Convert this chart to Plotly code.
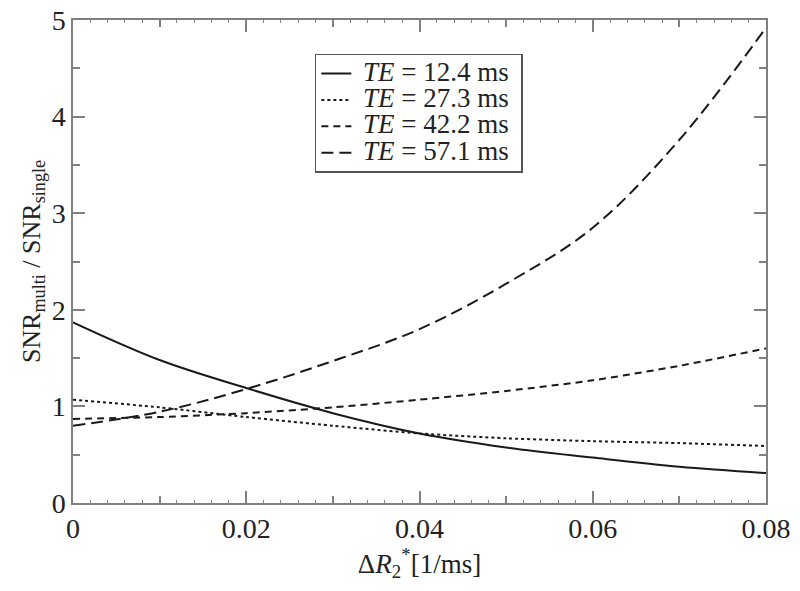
import plotly.graph_objects as go

# data (delta R2* in 1/ms, SNR ratio)
dr2 = [0.0, 0.01, 0.02, 0.03, 0.04, 0.05, 0.06, 0.07, 0.08]
te_124 = [1.87, 1.48, 1.19, 0.93, 0.72, 0.575, 0.47, 0.375, 0.31]
te_273 = [1.07, 0.99, 0.89, 0.80, 0.72, 0.67, 0.64, 0.62, 0.59]
te_422 = [0.87, 0.89, 0.93, 0.99, 1.07, 1.16, 1.27, 1.42, 1.60]
te_571 = [0.80, 0.945, 1.18, 1.47, 1.80, 2.27, 2.85, 3.76, 4.92]
labels = ['12.4', '27.3', '42.2', '57.1']

x_ticks = [0, 0.02, 0.04, 0.06, 0.08]
x_ticktext = ['0', '0.02', '0.04', '0.06', '0.08']
y_ticks = [0, 1, 2, 3, 4, 5]

series = [te_124, te_273, te_422, te_571]
dashes = ['solid', 'dot', '7px,5px', '12px,6px']
smooth = [1.0, 0.7, 0.7, 1.0]

fig = go.Figure()
for ys, lab, d, s in zip(series, labels, dashes, smooth):
    fig.add_trace(go.Scatter(
        x=dr2, y=ys, mode='lines',
        line=dict(color='#1a1a1a', width=2, dash=d, shape='spline', smoothing=s),
        # small legend font keeps rows tight, the span sets the visible size
        name=f'<span style="font-size:27px">&nbsp;<i>TE</i> = {lab} ms&nbsp;</span>',
    ))

# invisible trace to carry the extra fine tick axis
fig.add_trace(go.Scatter(x=[0, 0.08], y=[0, 0], xaxis='x2', mode='lines',
                         line=dict(width=0), showlegend=False, hoverinfo='skip'))

axis_col = '#808080'
font = 'Liberation Serif, Times New Roman, serif'

fig.update_layout(
    width=800, height=591,
    margin=dict(l=73, r=34, t=20, b=88, autoexpand=False),
    plot_bgcolor='white', paper_bgcolor='white',
    font=dict(family=font, color='#222', size=24),
    showlegend=True,
    legend=dict(
        x=0.349, y=0.93, xanchor='left', yanchor='top',
        bgcolor='white', bordercolor='#555', borderwidth=1.5,
        font=dict(size=18, family=font),
        tracegroupgap=0, itemwidth=30,
    ),
    xaxis=dict(
        range=[0, 0.08], tickvals=x_ticks, ticktext=x_ticktext,
        showline=True, linecolor=axis_col, linewidth=1.5, mirror='ticks',
        ticks='inside', ticklen=12, tickcolor=axis_col, tickwidth=1.5,
        minor=dict(tickvals=[0.01, 0.03, 0.05, 0.07], ticks='inside', ticklen=7, tickcolor=axis_col),
        showgrid=False, zeroline=False, automargin=False,
        tickfont=dict(size=28),
        title=dict(text='Δ<i>R</i><sub>2</sub><sup>*</sup>[1/ms]', font=dict(size=27), standoff=4),
    ),
    xaxis2=dict(
        overlaying='x', range=[0, 0.08], side='bottom',
        showticklabels=False, showgrid=False, zeroline=False,
        ticks='inside', ticklen=3, dtick=0.002, tick0=0, tickcolor=axis_col, tickwidth=1,
        mirror='ticks', showline=False, automargin=False,
    ),
    yaxis=dict(
        range=[0, 5], tickvals=y_ticks,
        showline=True, linecolor=axis_col, linewidth=1.5, mirror='ticks',
        ticks='inside', ticklen=12, tickcolor=axis_col, tickwidth=1.5,
        minor=dict(dtick=0.5, ticks='inside', ticklen=7, tickcolor=axis_col),
        showgrid=False, zeroline=False, automargin=False,
        tickfont=dict(size=28),
        title=dict(text='SNR<sub>multi</sub> / SNR<sub>single</sub>', font=dict(size=26), standoff=4),
    ),
)

fig.write_html('out.html', config={'displayModeBar': False},
               post_script="document.body.style.margin='0';")
